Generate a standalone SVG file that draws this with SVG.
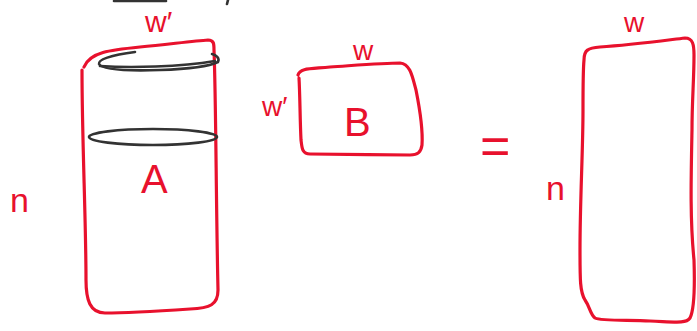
<svg xmlns="http://www.w3.org/2000/svg" width="697" height="331" viewBox="0 0 697 331">
<style>
.r{fill:none;stroke:#e8112d;stroke-width:3.2;stroke-linecap:round;stroke-linejoin:round}
.k{fill:none;stroke:#333;stroke-width:2.6;stroke-linecap:round}
.t{fill:#e8112d;font-family:"Liberation Sans",Arial,sans-serif}
</style>
<rect width="697" height="331" fill="#fff"/>
<g id="scribble">
<path class="k" d="M114 1 L166 1"/>
<path class="k" d="M228 0 L227 4"/>
</g>
<g id="matrixA">
<path class="r" d="M84 67 C90 52 110 50 140 47 C170 44 195 41 208 40 C214 40 214 44 214 50 C216 100 216 200 218 290 C218 305 210 308 190 309 C160 311 120 313 105 313 C90 313 86 300 86 280 C86 220 82 140 82 70"/>
<path class="k" d="M135 52 C110 55 98 60 99 64 C102 70 130 71 160 70 C190 69 210 66 218 62 C220 58 216 55 212 54"/>
<path class="k" d="M100 66 C130 68 180 67 215 61"/>
<ellipse class="k" cx="153" cy="137" rx="64" ry="8"/>
<text class="t" x="141" y="193" font-size="40">A</text>
<text class="t" x="145" y="32" font-size="30">w′</text>
<text class="t" x="10" y="212" font-size="34">n</text>
</g>
<g id="matrixB">
<path class="r" d="M298 75 C300 68 310 69 330 67 C360 65 385 63 400 63 C410 64 412 75 416 90 C420 110 423 130 422 145 C421 152 418 155 410 155 C380 155 330 154 310 154 C302 154 302 148 301 140 C300 120 300 95 299 78"/>
<text class="t" x="344" y="136" font-size="40">B</text>
<text class="t" x="353" y="60" font-size="28">w</text>
<text class="t" x="262" y="116" font-size="28">w′</text>
</g>
<g id="equals">
<text class="t" x="480" y="164" font-size="52">=</text>
</g>
<g id="matrixC">
<path class="r" d="M584 60 C584 50 588 48 600 47 C630 45 660 41 685 38 C693 38 694 45 694 55 C694 80 692 100 692 130 C691 180 690 220 694 260 C695 290 694 310 690 318 C686 324 675 322 650 321 C625 320 600 321 595 318 C590 314 590 307 585 300 C580 292 580 280 580 250 C580 200 583 150 583 110 C583 90 583 70 584 60"/>
<text class="t" x="624" y="32" font-size="28">w</text>
<text class="t" x="546" y="200" font-size="34">n</text>
</g>
</svg>
